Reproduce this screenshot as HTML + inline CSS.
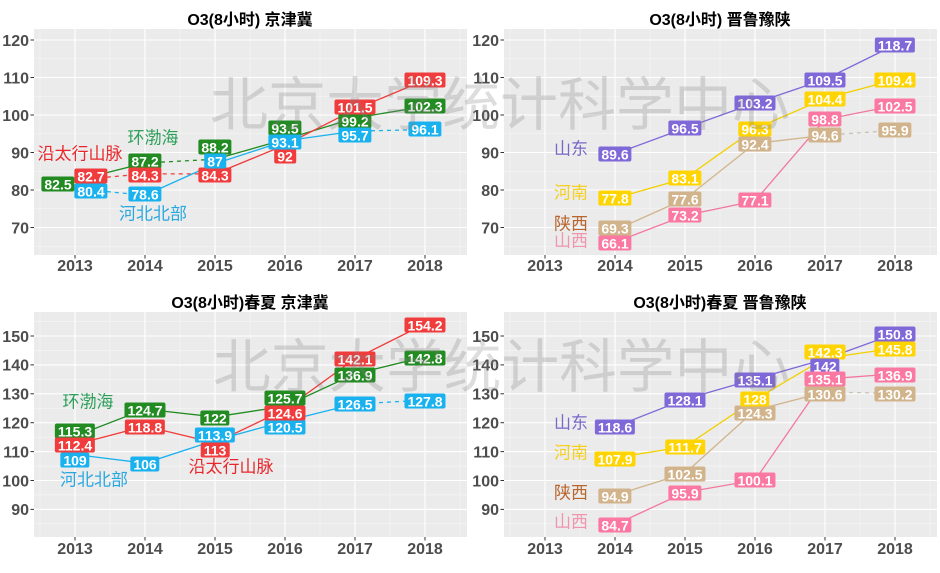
<!DOCTYPE html>
<html><head><meta charset="utf-8">
<style>
html,body{margin:0;padding:0;background:#fff;}
#c{position:relative;width:940px;height:573px;overflow:hidden;background:#fff;}
svg{position:absolute;left:0;top:0;}
.l{position:absolute;transform:translate(-50%,-50%);padding:0 3px;height:15px;line-height:15px;font:700 14px "Liberation Sans",sans-serif;color:#fff;border-radius:2px;white-space:nowrap;}
.g{background:#228b22}.r{background:#f03c3c}.b{background:#1ab2ee}
.p{background:#7f68d8}.y{background:#ffd400}.t{background:#d2b48c}.k{background:#fb78a2}
.a{position:absolute;transform:translate(-50%,-50%);font:17px "Noto Sans CJK SC",sans-serif;line-height:17px;white-space:nowrap;}
.wm{position:absolute;left:0;top:0;}
</style></head><body><div id="c">
<svg width="940" height="573" viewBox="0 0 940 573" font-family="Liberation Sans, Noto Sans CJK SC, sans-serif">
<defs>
<g id="gT">
<rect x="34" y="29" width="433" height="226" fill="#ebebeb"/>
<g stroke="#f7f7f7" stroke-width="0.6">
<line x1="34" x2="467" y1="246.25" y2="246.25"/><line x1="34" x2="467" y1="208.75" y2="208.75"/><line x1="34" x2="467" y1="171.25" y2="171.25"/><line x1="34" x2="467" y1="133.75" y2="133.75"/><line x1="34" x2="467" y1="96.25" y2="96.25"/><line x1="34" x2="467" y1="58.75" y2="58.75"/>
<line y1="29" y2="255" x1="40" x2="40"/><line y1="29" y2="255" x1="110" x2="110"/><line y1="29" y2="255" x1="180" x2="180"/><line y1="29" y2="255" x1="250" x2="250"/><line y1="29" y2="255" x1="320" x2="320"/><line y1="29" y2="255" x1="390" x2="390"/><line y1="29" y2="255" x1="460" x2="460"/>
</g>
<g stroke="#fff" stroke-width="1.1">
<line x1="34" x2="467" y1="40" y2="40"/><line x1="34" x2="467" y1="77.5" y2="77.5"/><line x1="34" x2="467" y1="115" y2="115"/><line x1="34" x2="467" y1="152.5" y2="152.5"/><line x1="34" x2="467" y1="190" y2="190"/><line x1="34" x2="467" y1="227.5" y2="227.5"/>
<line y1="29" y2="255" x1="75" x2="75"/><line y1="29" y2="255" x1="145" x2="145"/><line y1="29" y2="255" x1="215" x2="215"/><line y1="29" y2="255" x1="285" x2="285"/><line y1="29" y2="255" x1="355" x2="355"/><line y1="29" y2="255" x1="425" x2="425"/>
</g>
<g stroke="#333" stroke-width="1">
<line x1="30.5" x2="34" y1="40" y2="40"/><line x1="30.5" x2="34" y1="77.5" y2="77.5"/><line x1="30.5" x2="34" y1="115" y2="115"/><line x1="30.5" x2="34" y1="152.5" y2="152.5"/><line x1="30.5" x2="34" y1="190" y2="190"/><line x1="30.5" x2="34" y1="227.5" y2="227.5"/>
<line y1="255" y2="258.5" x1="75" x2="75"/><line y1="255" y2="258.5" x1="145" x2="145"/><line y1="255" y2="258.5" x1="215" x2="215"/><line y1="255" y2="258.5" x1="285" x2="285"/><line y1="255" y2="258.5" x1="355" x2="355"/><line y1="255" y2="258.5" x1="425" x2="425"/>
</g>
<g fill="#4d4d4d" font-weight="700" font-size="16" text-anchor="end">
<text x="29" y="45.8">120</text><text x="29" y="83.3">110</text><text x="29" y="120.8">100</text><text x="29" y="158.3">90</text><text x="29" y="195.8">80</text><text x="29" y="233.3">70</text>
</g>
<g fill="#4d4d4d" font-weight="700" font-size="16" text-anchor="middle">
<text x="75" y="271">2013</text><text x="145" y="271">2014</text><text x="215" y="271">2015</text><text x="285" y="271">2016</text><text x="355" y="271">2017</text><text x="425" y="271">2018</text>
</g>
</g>
<g id="gB">
<rect x="34" y="312" width="433" height="225" fill="#ebebeb"/>
<g stroke="#f7f7f7" stroke-width="0.6">
<line x1="34" x2="467" y1="321.55" y2="321.55"/><line x1="34" x2="467" y1="350.45" y2="350.45"/><line x1="34" x2="467" y1="379.35" y2="379.35"/><line x1="34" x2="467" y1="408.25" y2="408.25"/><line x1="34" x2="467" y1="437.15" y2="437.15"/><line x1="34" x2="467" y1="466.05" y2="466.05"/><line x1="34" x2="467" y1="494.95" y2="494.95"/><line x1="34" x2="467" y1="523.85" y2="523.85"/>
<line y1="312" y2="537" x1="40" x2="40"/><line y1="312" y2="537" x1="110" x2="110"/><line y1="312" y2="537" x1="180" x2="180"/><line y1="312" y2="537" x1="250" x2="250"/><line y1="312" y2="537" x1="320" x2="320"/><line y1="312" y2="537" x1="390" x2="390"/><line y1="312" y2="537" x1="460" x2="460"/>
</g>
<g stroke="#fff" stroke-width="1.1">
<line x1="34" x2="467" y1="336" y2="336"/><line x1="34" x2="467" y1="364.9" y2="364.9"/><line x1="34" x2="467" y1="393.8" y2="393.8"/><line x1="34" x2="467" y1="422.7" y2="422.7"/><line x1="34" x2="467" y1="451.6" y2="451.6"/><line x1="34" x2="467" y1="480.5" y2="480.5"/><line x1="34" x2="467" y1="509.4" y2="509.4"/>
<line y1="312" y2="537" x1="75" x2="75"/><line y1="312" y2="537" x1="145" x2="145"/><line y1="312" y2="537" x1="215" x2="215"/><line y1="312" y2="537" x1="285" x2="285"/><line y1="312" y2="537" x1="355" x2="355"/><line y1="312" y2="537" x1="425" x2="425"/>
</g>
<g stroke="#333" stroke-width="1">
<line x1="30.5" x2="34" y1="336" y2="336"/><line x1="30.5" x2="34" y1="364.9" y2="364.9"/><line x1="30.5" x2="34" y1="393.8" y2="393.8"/><line x1="30.5" x2="34" y1="422.7" y2="422.7"/><line x1="30.5" x2="34" y1="451.6" y2="451.6"/><line x1="30.5" x2="34" y1="480.5" y2="480.5"/><line x1="30.5" x2="34" y1="509.4" y2="509.4"/>
<line y1="537" y2="540.5" x1="75" x2="75"/><line y1="537" y2="540.5" x1="145" x2="145"/><line y1="537" y2="540.5" x1="215" x2="215"/><line y1="537" y2="540.5" x1="285" x2="285"/><line y1="537" y2="540.5" x1="355" x2="355"/><line y1="537" y2="540.5" x1="425" x2="425"/>
</g>
<g fill="#4d4d4d" font-weight="700" font-size="16" text-anchor="end">
<text x="29" y="341.8">150</text><text x="29" y="370.7">140</text><text x="29" y="399.6">130</text><text x="29" y="428.5">120</text><text x="29" y="457.4">110</text><text x="29" y="486.3">100</text><text x="29" y="515.2">90</text>
</g>
<g fill="#4d4d4d" font-weight="700" font-size="16" text-anchor="middle">
<text x="75" y="554">2013</text><text x="145" y="554">2014</text><text x="215" y="554">2015</text><text x="285" y="554">2016</text><text x="355" y="554">2017</text><text x="425" y="554">2018</text>
</g>
</g>
</defs>
<use href="#gT"/>
<use href="#gT" transform="translate(470,0)"/>
<use href="#gB"/>
<use href="#gB" transform="translate(470,0)"/>

<g font-weight="700" font-size="16" text-anchor="middle" fill="#000">
<text x="250" y="25">O3(8小时) 京津冀</text>
<text x="720" y="25">O3(8小时) 晋鲁豫陕</text>
<text x="250" y="308">O3(8小时)春夏 京津冀</text>
<text x="720" y="308">O3(8小时)春夏 晋鲁豫陕</text>
</g>

<g fill="none" stroke-width="1.3">
<!-- TL -->
<path d="M75 180.63L145 163" stroke="#228b22"/>
<path d="M145 163L215 159.25" stroke="#228b22" stroke-dasharray="4 4"/>
<path d="M215 159.25L285 139.38L355 118L425 106.38" stroke="#228b22"/>
<path d="M75 179.88L145 173.88L215 173.88" stroke="#f03c3c" stroke-dasharray="4 4"/>
<path d="M215 173.88L285 145L355 109.38L425 80.13" stroke="#f03c3c"/>
<path d="M75 188.5L145 195.25" stroke="#1ab2ee" stroke-dasharray="4 4"/>
<path d="M145 195.25L215 163.75L285 140.88L355 131.13" stroke="#1ab2ee"/>
<path d="M355 131.13L425 129.63" stroke="#1ab2ee" stroke-dasharray="4 4"/>
<!-- TR -->
<path d="M615 154L685 128.13L755 103L825 79.38L895 44.88" stroke="#7f68d8"/>
<path d="M615 198.25L685 178.38L755 128.88L825 98.5L895 79.75" stroke="#f2d000"/>
<path d="M615 230.13L685 199L755 143.5L825 135.25" stroke="#d2b48c"/>
<path d="M825 135.25L895 130.38" stroke="#c9c2b8" stroke-dasharray="4 4"/>
<path d="M615 242.13L685 215.5L755 200.88L825 119.5L895 105.63" stroke="#f2789e"/>
<!-- BL -->
<path d="M75 436.28L145 409.12L215 416.92L285 406.23L355 373.86L425 356.81" stroke="#228b22"/>
<path d="M75 444.66L145 426.17L215 442.93L285 409.41L355 358.83L425 323.86" stroke="#f03c3c"/>
<path d="M75 454.49L145 463.16L215 440.33L285 421.26L355 403.92" stroke="#1ab2ee"/>
<path d="M355 403.92L425 400.16" stroke="#1ab2ee" stroke-dasharray="4 4"/>
<!-- BR -->
<path d="M615 426.75L685 399.29L755 379.06L825 359.12L895 333.69" stroke="#7f68d8"/>
<path d="M615 457.67L685 446.69L755 399.58L825 358.25L895 348.14" stroke="#f2d000"/>
<path d="M615 495.24L685 473.28L755 410.27L825 392.07" stroke="#d2b48c"/>
<path d="M825 392.07L895 393.22" stroke="#c9c2b8" stroke-dasharray="4 4"/>
<path d="M615 524.72L685 492.35L755 480.21L825 379.06L895 373.86" stroke="#f2789e"/>
</g>
</svg>

<!-- TL labels -->
<span class="l g" style="left:58px;top:184px">82.5</span>
<span class="l r" style="left:91px;top:176px">82.7</span>
<span class="l b" style="left:91px;top:191px">80.4</span>
<span class="l g" style="left:145px;top:161px">87.2</span>
<span class="l r" style="left:145px;top:175px">84.3</span>
<span class="l b" style="left:145px;top:194px">78.6</span>
<span class="l g" style="left:215px;top:147px">88.2</span>
<span class="l r" style="left:215px;top:175px">84.3</span>
<span class="l b" style="left:215px;top:161px">87</span>
<span class="l r" style="left:285px;top:156px">92</span>
<span class="l g" style="left:285px;top:128px">93.5</span>
<span class="l b" style="left:285px;top:142px">93.1</span>
<span class="l g" style="left:355px;top:121px">99.2</span>
<span class="l r" style="left:355px;top:107px">101.5</span>
<span class="l b" style="left:355px;top:135px">95.7</span>
<span class="l r" style="left:425px;top:79.5px">109.3</span>
<span class="l g" style="left:425px;top:106px">102.3</span>
<span class="l b" style="left:425px;top:129px">96.1</span>
<span class="a" style="left:80px;top:152px;color:#e8282c">沿太行山脉</span>
<span class="a" style="left:153px;top:136px;color:#2ca05a">环渤海</span>
<span class="a" style="left:153px;top:212px;color:#29a8e0">河北北部</span>

<!-- TR labels -->
<span class="l p" style="left:615px;top:154px">89.6</span>
<span class="l p" style="left:685px;top:128px">96.5</span>
<span class="l p" style="left:755px;top:103px">103.2</span>
<span class="l p" style="left:825px;top:79.5px">109.5</span>
<span class="l p" style="left:895px;top:45px">118.7</span>
<span class="l y" style="left:615px;top:197.5px">77.8</span>
<span class="l y" style="left:685px;top:178px">83.1</span>
<span class="l t" style="left:755px;top:144px">92.4</span>
<span class="l y" style="left:755px;top:128.5px">96.3</span>
<span class="l y" style="left:825px;top:99px">104.4</span>
<span class="l y" style="left:895px;top:80px">109.4</span>
<span class="l t" style="left:615px;top:228px">69.3</span>
<span class="l t" style="left:685px;top:199px">77.6</span>
<span class="l t" style="left:825px;top:135px">94.6</span>
<span class="l t" style="left:895px;top:130px">95.9</span>
<span class="l k" style="left:615px;top:242.5px">66.1</span>
<span class="l k" style="left:685px;top:215px">73.2</span>
<span class="l k" style="left:755px;top:200px">77.1</span>
<span class="l k" style="left:825px;top:119px">98.8</span>
<span class="l k" style="left:895px;top:106px">102.5</span>
<span class="a" style="left:571px;top:147px;color:#7a68c8">山东</span>
<span class="a" style="left:571px;top:191px;color:#f5d020">河南</span>
<span class="a" style="left:571px;top:222px;color:#b8652e">陕西</span>
<span class="a" style="left:571px;top:239px;color:#f095b0">山西</span>

<!-- BL labels -->
<span class="l g" style="left:75px;top:431px">115.3</span>
<span class="l r" style="left:75px;top:445px">112.4</span>
<span class="l b" style="left:75px;top:460px">109</span>
<span class="l g" style="left:145px;top:410px">124.7</span>
<span class="l r" style="left:145px;top:427px">118.8</span>
<span class="l b" style="left:145px;top:464px">106</span>
<span class="l g" style="left:215px;top:418px">122</span>
<span class="l r" style="left:215px;top:450px">113</span>
<span class="l b" style="left:215px;top:435px">113.9</span>
<span class="l b" style="left:285px;top:427px">120.5</span>
<span class="l r" style="left:285px;top:413px">124.6</span>
<span class="l g" style="left:285px;top:398px">125.7</span>
<span class="l b" style="left:355px;top:404px">126.5</span>
<span class="l g" style="left:355px;top:375px">136.9</span>
<span class="l r" style="left:355px;top:359px">142.1</span>
<span class="l r" style="left:425px;top:325px">154.2</span>
<span class="l g" style="left:425px;top:358px">142.8</span>
<span class="l b" style="left:425px;top:401px">127.8</span>
<span class="a" style="left:88px;top:400px;color:#2ca05a">环渤海</span>
<span class="a" style="left:231px;top:465px;color:#e8282c">沿太行山脉</span>
<span class="a" style="left:94px;top:478px;color:#29a8e0">河北北部</span>

<!-- BR labels -->
<span class="l p" style="left:615px;top:427px">118.6</span>
<span class="l p" style="left:685px;top:399.5px">128.1</span>
<span class="l t" style="left:755px;top:413px">124.3</span>
<span class="l y" style="left:755px;top:399px">128</span>
<span class="l p" style="left:755px;top:380px">135.1</span>
<span class="l y" style="left:825px;top:352px">142.3</span>
<span class="l p" style="left:825px;top:366px">142</span>
<span class="l p" style="left:895px;top:334px">150.8</span>
<span class="l y" style="left:615px;top:459px">107.9</span>
<span class="l y" style="left:685px;top:446.5px">111.7</span>
<span class="l y" style="left:895px;top:349px">145.8</span>
<span class="l t" style="left:615px;top:496px">94.9</span>
<span class="l t" style="left:685px;top:474px">102.5</span>
<span class="l t" style="left:825px;top:394px">130.6</span>
<span class="l t" style="left:895px;top:394px">130.2</span>
<span class="l k" style="left:615px;top:525px">84.7</span>
<span class="l k" style="left:685px;top:493px">95.9</span>
<span class="l k" style="left:755px;top:480px">100.1</span>
<span class="l k" style="left:825px;top:379px">135.1</span>
<span class="l k" style="left:895px;top:375px">136.9</span>
<span class="a" style="left:571px;top:421px;color:#7a68c8">山东</span>
<span class="a" style="left:571px;top:451px;color:#f5d020">河南</span>
<span class="a" style="left:571px;top:491px;color:#b8652e">陕西</span>
<span class="a" style="left:571px;top:520px;color:#f095b0">山西</span>

<svg class="wm" width="940" height="573" viewBox="0 0 940 573">
<g font-family="Noto Sans CJK SC, sans-serif" font-size="58" fill="#808080" fill-opacity="0.27">
<text x="210" y="125" textLength="580" lengthAdjust="spacingAndGlyphs">北京大学统计科学中心</text>
<text x="213" y="387" textLength="577" lengthAdjust="spacingAndGlyphs">北京大学统计科学中心</text>
</g>
</svg>
</div></body></html>
